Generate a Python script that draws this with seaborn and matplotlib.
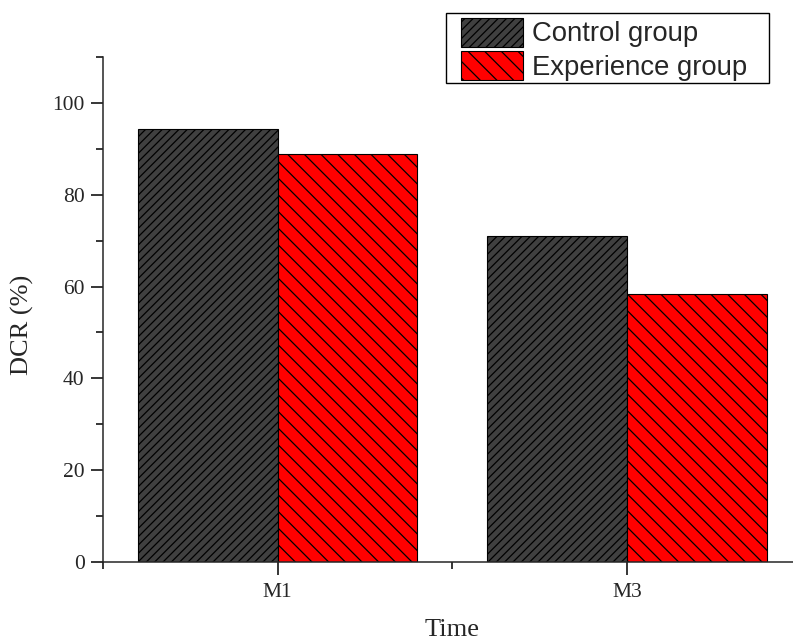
import matplotlib
matplotlib.use("Agg")
import matplotlib.pyplot as plt
import pandas as pd
import seaborn as sns
from matplotlib.patches import Patch, Rectangle
from matplotlib.ticker import FixedLocator, MultipleLocator

# values
times = ["M1", "M3"]
groups = ["Control group", "Experience group"]
control_dcr = [94.4, 70.9]
experience_dcr = [88.9, 58.4]

colors = {"Control group": "#404040", "Experience group": "#FF0000"}
hatches = {"Control group": "////", "Experience group": "\\\\"}

df = pd.DataFrame({
    "Time": times * 2,
    "Group": [groups[0]] * len(times) + [groups[1]] * len(times),
    "DCR": control_dcr + experience_dcr,
})

sns.set_style("ticks")
plt.rcParams["font.family"] = ["Liberation Serif", "DejaVu Serif"]
plt.rcParams["hatch.linewidth"] = 0.9

W, H = 793, 643
fig = plt.figure(figsize=(W / 100, H / 100), dpi=100)
ax = fig.add_axes([0.1295, 0.126, 0.8819, 0.7854])

sns.barplot(data=df, x="Time", y="DCR", hue="Group", palette=colors,
            saturation=1, width=0.8, edgecolor="black", linewidth=0.8,
            legend=False, ax=ax)

for cont, grp in zip(ax.containers, groups):
    for bar in cont:
        bar.set_hatch(hatches[grp])

ax.set_xlim(-0.5, 1.5)
ax.set_ylim(0, 110)
ax.yaxis.set_major_locator(MultipleLocator(20))
ax.yaxis.set_minor_locator(MultipleLocator(10))
ax.xaxis.set_minor_locator(FixedLocator([-0.5, 0.5, 1.5]))

for side in ["top", "right"]:
    ax.spines[side].set_visible(False)
for side in ["left", "bottom"]:
    ax.spines[side].set_linewidth(1.1)

ax.tick_params(which="major", direction="out", length=9, width=1.1,
               labelsize=15.5, pad=4, color="black")
ax.tick_params(axis="x", which="major", pad=6)
ax.tick_params(which="minor", direction="out", length=5, width=1.1,
               color="black")

ax.set_xlabel("Time", fontsize=19)
ax.set_ylabel("DCR (%)", fontsize=19)
ax.yaxis.set_label_coords(-0.098, 0.47)
ax.xaxis.set_label_coords(0.5, -0.112)

# legend box drawn separately so its padding matches the reference
fig.patches.append(Rectangle((446 / W, 1 - 83 / H), 323 / W, 70 / H,
                             transform=fig.transFigure, fill=False,
                             edgecolor="black", linewidth=1.0, zorder=5))
handles = [Patch(facecolor=colors[g], edgecolor="black", linewidth=0.8,
                 hatch=hatches[g]) for g in groups]
leg = fig.legend(handles, groups, loc="upper left",
                 bbox_to_anchor=(461 / W, 1 - 17.5 / H),
                 prop={"family": "Liberation Sans", "size": 19.8},
                 frameon=False, borderpad=0, labelspacing=0.12,
                 handlelength=2.25, handleheight=1.27, handletextpad=0.33,
                 borderaxespad=0)

fig.savefig("out.png", dpi=100)
